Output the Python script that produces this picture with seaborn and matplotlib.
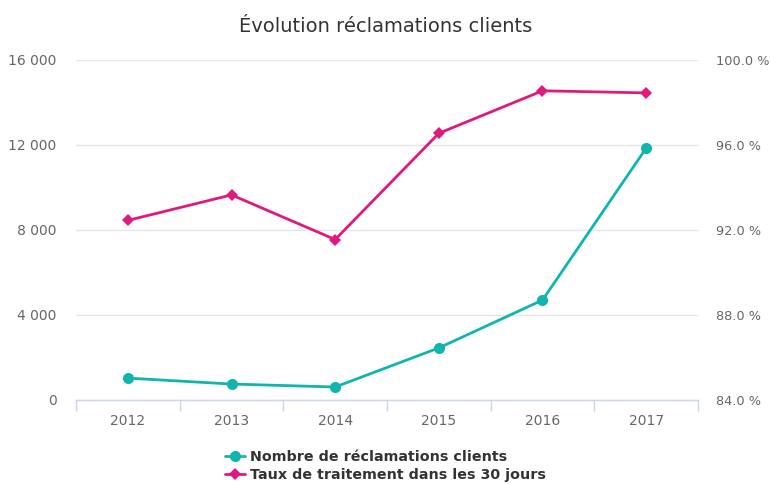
import pandas as pd
import matplotlib.pyplot as plt
import seaborn as sns
from matplotlib.ticker import FuncFormatter, FixedLocator

years = ["2012", "2013", "2014", "2015", "2016", "2017"]
reclamations = [1030, 750, 610, 2450, 4700, 11850]
taux = [92.45, 93.65, 91.55, 96.55, 98.55, 98.45]

df = pd.DataFrame({"idx": range(len(years)), "Année": years,
                   "Reclamations": reclamations, "Taux": taux})

sns.set_style("white")
plt.rcParams["font.family"] = ["DejaVu Sans"]

teal = "#10b5ad"
pink = "#e0197f"
grid = "#e6e6e6"
tick_col = "#666666"

fig = plt.figure(figsize=(7.71, 4.84), dpi=100)
ax = fig.add_axes([0.0986, 0.1736, 0.8067, 0.7025])
ax2 = ax.twinx()

sns.lineplot(data=df, x="idx", y="Reclamations", ax=ax, color=teal, marker="o",
             markersize=8, markeredgewidth=0, linewidth=2, zorder=3)
sns.lineplot(data=df, x="idx", y="Taux", ax=ax2, color=pink, marker="D",
             markersize=6, markeredgewidth=0, linewidth=2, zorder=3)

ax.set_xlim(-0.5, len(years) - 0.5)
ax.set_ylim(0, 16000)
ax.set_yticks([0, 4000, 8000, 12000, 16000])
ax.yaxis.set_major_formatter(FuncFormatter(lambda v, p: f"{int(v):,}".replace(",", " ")))
ax2.set_ylim(84, 100)
ax2.set_yticks([84, 88, 92, 96, 100])
ax2.yaxis.set_major_formatter(FuncFormatter(lambda v, p: f"{v:.1f} %"))

ax.set_xticks(range(len(years)))
ax.set_xticklabels(years)
ax.xaxis.set_minor_locator(FixedLocator([i - 0.5 for i in range(len(years) + 1)]))
ax.tick_params(axis="x", which="major", bottom=False, length=0, pad=10,
               labelsize=10, labelcolor=tick_col)
ax.tick_params(axis="x", which="minor", bottom=True, length=8, width=1,
               color="#ccd6eb", direction="out")
ax.tick_params(axis="y", length=0, pad=14, labelsize=10, labelcolor=tick_col)
ax2.tick_params(axis="y", length=0, pad=13, labelsize=9.3, labelcolor=tick_col)

ax.yaxis.grid(True, color=grid, linewidth=1)
ax.set_axisbelow(True)
for a in (ax, ax2):
    for s in ["top", "left", "right", "bottom"]:
        a.spines[s].set_visible(False)
    a.set_xlabel("")
    a.set_ylabel("")
ax.spines["bottom"].set_visible(True)
ax.spines["bottom"].set_color("#ccd6eb")
ax.spines["bottom"].set_linewidth(1)

fig.suptitle("Évolution réclamations clients", y=0.965, fontsize=14, color="#333333")

h1 = ax.get_lines()[0]
h2 = ax2.get_lines()[0]
fig.legend([h1, h2], ["Nombre de réclamations clients", "Taux de traitement dans les 30 jours"],
           loc="upper center", bbox_to_anchor=(0.5, 0.084), ncol=1, frameon=False,
           prop={"weight": "bold", "size": 10.3}, labelcolor="#333333",
           handlelength=1.4, handletextpad=0.4, labelspacing=0.25, borderpad=0)

fig.savefig("out.png", dpi=100)
